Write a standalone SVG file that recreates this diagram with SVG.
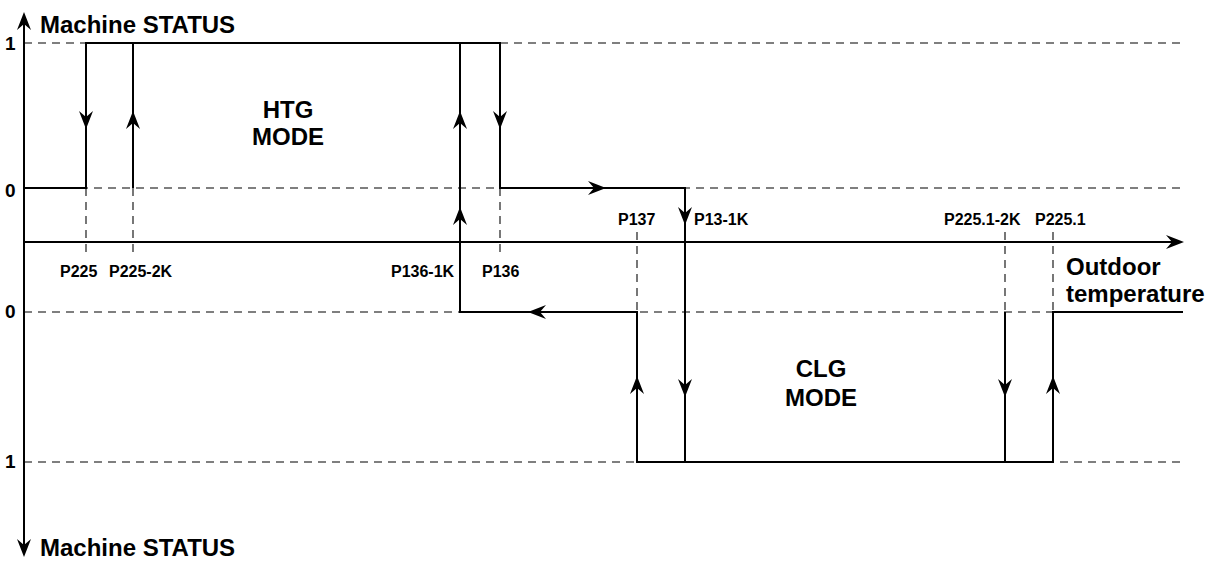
<svg xmlns="http://www.w3.org/2000/svg" xmlns:xlink="http://www.w3.org/1999/xlink" width="1209" height="561" viewBox="0 0 1209 561">
<style>
.solid{stroke:#000;stroke-width:2;fill:none}
.dash{stroke:#555;stroke-width:1.6;stroke-dasharray:8,6;fill:none}
.big{font-family:"Liberation Sans",Arial,sans-serif;font-weight:bold;font-size:24px;fill:#000}
.lvl{font-family:"Liberation Sans",Arial,sans-serif;font-weight:bold;font-size:19px;fill:#000}
.p{font-family:"Liberation Sans",Arial,sans-serif;font-weight:bold;font-size:16px;fill:#000}
.ah{fill:#000;stroke:none}
</style>
<defs>
<path id="ar" d="M0,0 L-18,-7 L-12,0 L-18,7 Z"/>
</defs>
<rect width="1209" height="561" fill="#fff"/>
<g id="guides">
<line class="dash" x1="24" y1="43" x2="1183" y2="43"/>
<line class="dash" x1="24" y1="188" x2="1183" y2="188"/>
<line class="dash" x1="24" y1="312" x2="1183" y2="312"/>
<line class="dash" x1="24" y1="462" x2="1180" y2="462"/>
<line class="dash" x1="86" y1="188" x2="86" y2="258"/>
<line class="dash" x1="133" y1="188" x2="133" y2="258"/>
<line class="dash" x1="500" y1="188" x2="500" y2="258"/>
<line class="dash" x1="637" y1="232" x2="637" y2="312"/>
<line class="dash" x1="1005" y1="232" x2="1005" y2="312"/>
<line class="dash" x1="1053" y1="232" x2="1053" y2="312"/>
</g>
<g id="axes">
<line class="solid" x1="24" y1="22" x2="24" y2="546"/>
<use xlink:href="#ar" class="ah" transform="translate(24,12) rotate(-90)"/>
<use xlink:href="#ar" class="ah" transform="translate(24,557) rotate(90)"/>
<line class="solid" x1="24" y1="242" x2="1174" y2="242"/>
<use xlink:href="#ar" class="ah" transform="translate(1184,242)"/>
</g>
<g id="connectors">
<polyline class="solid" points="24,188 86,188 86,43 500,43 500,188 685,188 685,462"/>
<line class="solid" x1="133" y1="188" x2="133" y2="43"/>
<polyline class="solid" points="460,43 460,312 637,312 637,462 1053,462 1053,312 1183,312"/>
<line class="solid" x1="1005" y1="312" x2="1005" y2="462"/>
<use xlink:href="#ar" class="ah" transform="translate(86,129) rotate(90)"/>
<use xlink:href="#ar" class="ah" transform="translate(133,111) rotate(-90)"/>
<use xlink:href="#ar" class="ah" transform="translate(460,111) rotate(-90)"/>
<use xlink:href="#ar" class="ah" transform="translate(460,207) rotate(-90)"/>
<use xlink:href="#ar" class="ah" transform="translate(500,129) rotate(90)"/>
<use xlink:href="#ar" class="ah" transform="translate(606,188)"/>
<use xlink:href="#ar" class="ah" transform="translate(685,225) rotate(90)"/>
<use xlink:href="#ar" class="ah" transform="translate(685,397) rotate(90)"/>
<use xlink:href="#ar" class="ah" transform="translate(528,312) rotate(180)"/>
<use xlink:href="#ar" class="ah" transform="translate(637,376) rotate(-90)"/>
<use xlink:href="#ar" class="ah" transform="translate(1005,397) rotate(90)"/>
<use xlink:href="#ar" class="ah" transform="translate(1053,376) rotate(-90)"/>
</g>
<g id="labels">
<text class="big" x="40" y="33">Machine STATUS</text>
<text class="big" x="40" y="556">Machine STATUS</text>
<text class="lvl" x="5" y="50">1</text>
<text class="lvl" x="5" y="197">0</text>
<text class="lvl" x="5" y="318">0</text>
<text class="lvl" x="5" y="468">1</text>
<text class="big" x="288" y="118" text-anchor="middle">HTG</text>
<text class="big" x="288" y="145" text-anchor="middle">MODE</text>
<text class="big" x="821" y="377" text-anchor="middle">CLG</text>
<text class="big" x="821" y="406" text-anchor="middle">MODE</text>
<text class="big" x="1066" y="275">Outdoor</text>
<text class="big" x="1066" y="302">temperature</text>
<text class="p" x="60" y="277">P225</text>
<text class="p" x="109" y="277">P225-2K</text>
<text class="p" x="391" y="277">P136-1K</text>
<text class="p" x="482" y="277">P136</text>
<text class="p" x="618" y="225">P137</text>
<text class="p" x="694" y="225">P13-1K</text>
<text class="p" x="944" y="225">P225.1-2K</text>
<text class="p" x="1035" y="225">P225.1</text>
</g>
</svg>
